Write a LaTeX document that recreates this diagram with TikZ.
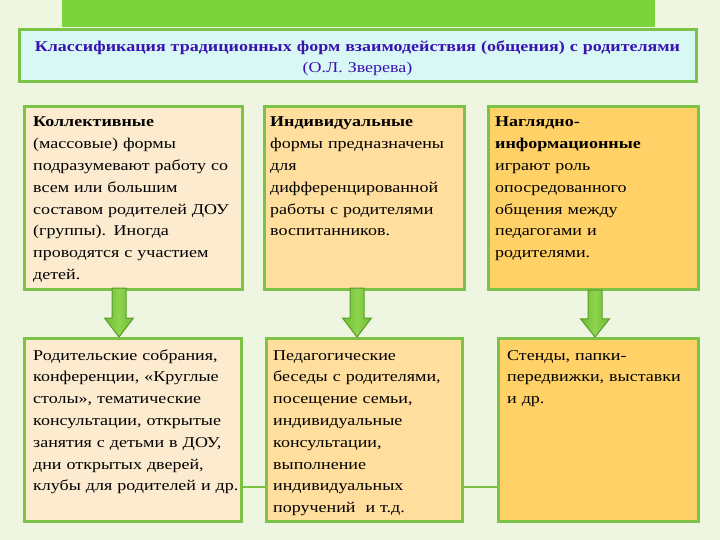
\documentclass[tikz,border=0pt]{standalone}
\usepackage{fontspec}
\setmainfont[FakeStretch=1.2]{Liberation Serif}
\usetikzlibrary{calc}
\definecolor{bgc}{HTML}{EEF6E1}
\definecolor{topgreen}{HTML}{7DD33B}
\definecolor{edgegreen}{HTML}{7CC244}
\definecolor{titlefill}{HTML}{D8F8F6}
\definecolor{titletext}{HTML}{3A12B0}
\definecolor{fillA}{HTML}{FDEBCF}
\definecolor{fillB}{HTML}{FFDE9E}
\definecolor{fillC}{HTML}{FFD166}
\definecolor{arrowdark}{HTML}{5A9A2A}
\definecolor{arrowmid}{HTML}{6FBE33}
\definecolor{arrowlight}{HTML}{8ED34E}
\tikzset{
  box/.style={draw=edgegreen, line width=2.6pt, anchor=north west, inner sep=0pt},
  txt/.style={anchor=base west, inner sep=0pt, text width=230pt, align=left,
    font=\fontsize{15}{21.8}\selectfont, text=black},
  conn/.style={draw=edgegreen, line width=2pt},
  downarrow/.pic={
    \path[draw=arrowdark, line width=1pt, left color=arrowmid, right color=arrowmid, middle color=arrowlight]
      (-7,0) -- (7,0) -- (7,30) -- (14.5,30) -- (0,49) -- (-14.5,30) -- (-7,30) -- cycle;
  }
}
\begin{document}
\begin{tikzpicture}[x=1pt,y=-1pt]
\useasboundingbox (0,0) rectangle (720,540);
\fill[bgc] (0,0) rectangle (720,540);
\fill[topgreen] (62,0) rectangle (655,27);
% title
\node[box, fill=titlefill, minimum width=677pt, minimum height=52pt] (title) at (18,28) {};
\node[anchor=base, inner sep=0pt, text width=690pt, align=center, text=titletext, font=\fontsize{15}{21}\selectfont] (titletxt) at (357.5,52)
  {\textbf{Классификация традиционных форм взаимодействия (общения) с родителями}\\(О.Л. Зверева)};
% top boxes
\node[box, fill=fillA, minimum width=218pt, minimum height=183pt] (t1) at (23,105) {};
\node[box, fill=fillB, minimum width=200pt, minimum height=183pt] (t2) at (263,105) {};
\node[box, fill=fillC, minimum width=210pt, minimum height=183pt] (t3) at (487,105) {};
% bottom boxes
\node[box, fill=fillA, minimum width=217pt, minimum height=183pt] (b1) at (23,337) {};
\node[box, fill=fillB, minimum width=196pt, minimum height=183pt] (b2) at (265,337) {};
\node[box, fill=fillC, minimum width=200pt, minimum height=183pt] (b3) at (497,337) {};
% texts
\node[txt] (t1txt) at (33,127) {\textbf{Коллективные}\\(массовые) формы\\подразумевают работу со\\всем или большим\\составом родителей ДОУ\\(группы). Иногда\\проводятся с участием\\детей.};
\node[txt] (t2txt) at (270,127) {\textbf{Индивидуальные}\\формы предназначены\\для\\дифференцированной\\работы с родителями\\воспитанников.};
\node[txt] (t3txt) at (495,127) {\textbf{Наглядно-}\\\textbf{информационные}\\играют роль\\опосредованного\\общения между\\педагогами и\\родителями.};
\node[txt] (b1txt) at (33,360) {Родительские собрания,\\конференции, «Круглые\\столы», тематические\\консультации, открытые\\занятия с детьми в ДОУ,\\дни открытых дверей,\\клубы для родителей и др.};
\node[txt] (b2txt) at (273,360) {Педагогические\\беседы с родителями,\\посещение семьи,\\индивидуальные\\консультации,\\выполнение\\индивидуальных\\поручений~ и т.д.};
\node[txt] (b3txt) at (507,360) {Стенды, папки-\\передвижки, выставки\\и др.};
% arrows
\coordinate (a1) at (119,288);
\coordinate (a2) at (357,288);
\coordinate (a3) at (595,290);
\pic at (a1) {downarrow};
\pic at (a2) {downarrow};
\path (a3) pic[yscale=0.96] {downarrow};
% connectors
\draw[conn] ([yshift=36pt]b1.south east) -- ([yshift=36pt]b2.south west);
\draw[conn] ([yshift=36pt]b2.south east) -- ([yshift=36pt]b3.south west);
\end{tikzpicture}
\end{document}
